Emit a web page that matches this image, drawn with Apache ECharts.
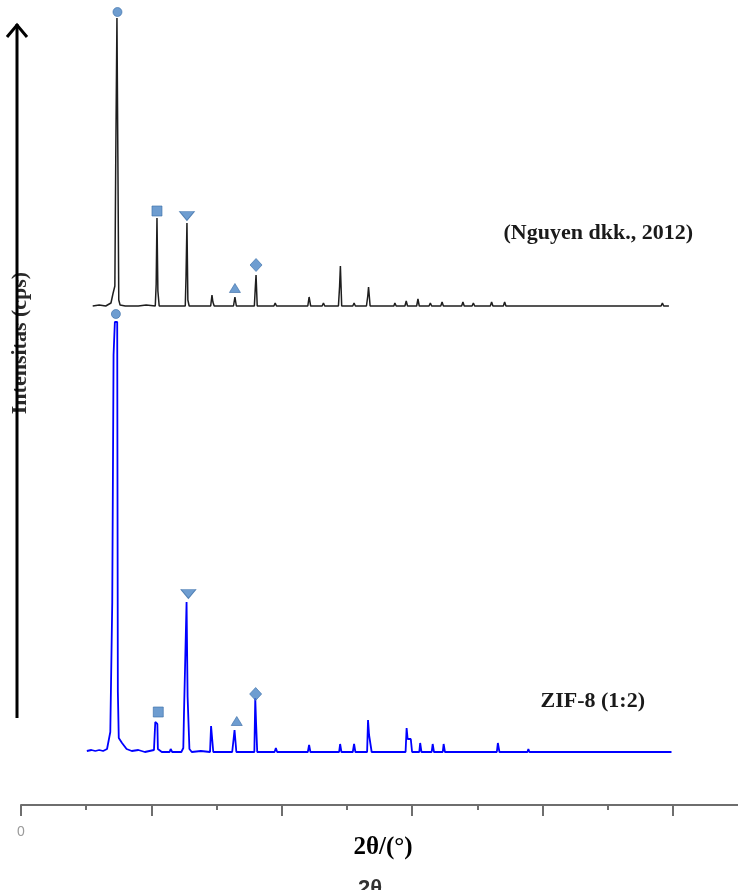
<!DOCTYPE html>
<html>
<head>
<meta charset="utf-8">
<script src="https://cdn.jsdelivr.net/npm/echarts@6/dist/echarts.min.js"></script>
<style>
html,body{margin:0;padding:0;background:#fff;overflow:hidden;}
#c{width:738px;height:890px;}
</style>
</head>
<body>
<div id="c"></div>
<script>
// ---- Reference pattern (Nguyen dkk., 2012): 2θ and relative intensity ----
const refTheta = [5.5,6.0,6.5,6.9,7.05,7.2,7.27,7.36,7.43,7.5,7.6,8.0,9.0,9.6,10.3,10.37,10.43,10.5,10.6,11.4,11.5,11.6,
  12.6,12.66,12.73,12.8,12.9,14.55,14.65,14.72,14.82,16.3,16.41,16.52,17.9,17.98,18.03,18.12,19.4,19.5,19.6,
  22.0,22.1,22.22,23.1,23.2,23.3,24.35,24.44,24.5,24.6,25.45,25.55,25.65,26.5,26.6,26.66,26.78,28.6,28.68,28.78,
  29.45,29.55,29.65,30.35,30.45,30.55,31.3,31.4,31.5,32.2,32.3,32.4,33.8,33.9,34.0,34.6,34.7,34.8,36.0,36.1,36.2,
  37.0,37.1,37.2,38.4,38.5,38.6,41.7,41.8,41.9,44.8,44.9,45.0,45.7,45.8,45.9,46.4,46.5,46.6,47.2,47.3,47.4,
  47.9,48.0,48.1,48.6,48.7,48.8,49.1,49.2,49.3,49.7];
const refIntensity = [0,1,0,3,12,20,150,288,150,6,1,0,0,1,0,22,88,15,0,0,2,0,
  0,30,83,6,0,0,11,4,0,0,9,0,0,20,31,0,0,3,0,
  0,9,0,0,3,0,0,20,40,0,0,3,0,0,10,19,0,0,3,0,
  0,5,0,0,7,0,0,3,0,0,4,0,0,4,0,0,3,0,0,4,0,
  0,4,0,0,2,0,0,2,0,0,2,0,0,2,0,0,2,0,0,2,0,
  0,2,0,0,2,0,0,3,0,0];

// ---- ZIF-8 (1:2) pattern: 2θ and relative intensity ----
const zifTheta = [5.05,5.4,5.7,6.0,6.3,6.6,6.85,6.95,7.0,7.05,7.1,7.15,7.2,7.38,7.43,7.5,7.6,7.75,7.9,8.1,8.5,9.0,9.5,
  10.2,10.3,10.38,10.46,10.5,10.8,11.4,11.48,11.6,12.3,12.45,12.5,12.62,12.7,12.78,12.85,12.92,13.1,13.8,
  14.5,14.58,14.66,14.75,15.2,15.26,15.35,16.2,16.3,16.38,16.45,16.52,16.8,17.9,17.97,18.03,18.08,18.12,
  19.45,19.55,19.65,20.0,22.0,22.1,22.2,23.1,23.2,23.3,24.4,24.48,24.58,25.45,25.55,25.65,26.55,26.62,26.7,26.82,26.9,
  29.5,29.58,29.66,29.9,30.0,30.55,30.62,30.72,31.5,31.58,31.68,32.35,32.42,32.52,34.1,34.2,34.3,34.95,35.05,35.15,
  35.6,35.7,35.8,36.5,36.58,36.7,36.9,36.97,37.05,37.7,38.85,38.92,39.0,41.8,41.9,42.0,44.85,44.9,44.95,
  46.4,46.5,46.6,49.2,49.3,49.4,49.9];
const zifIntensity = [1,2,1,2,1,3,20,22,150,150,397,397,430,430,60,14,12,9,8,3,1,2,0,
  2,30,32,28,3,0,0,3,0,0,4,37,37,150,55,55,3,0,1,
  0,26,28,0,0,2,0,0,12,22,22,0,0,0,54,30,30,0,
  0,4,0,0,0,7,0,0,1,0,0,8,0,0,8,0,0,32,17,17,0,
  0,24,13,13,0,0,9,0,0,8,0,0,8,0,0,1,0,0,2,0,
  0,2,0,0,9,0,0,2,0,0,0,3,0,0,1,0,0,-2,0,
  0,2,0,0,1.5,0,0];

// ---- Phase markers ----
const markSymbols = ['circle','rect','triangle','triangle','diamond'];
const markRotate = [0,0,180,0,0];
const refMarkX = [7.40,10.43,12.73,16.41,18.03];
const refMarkY = [294,95,90,18,41];
const zifMarkX = [7.28,10.53,12.84,16.55,18.0];
const zifMarkY = [438,40,158,31,58];

// ---- Axis ----
const xMajorTicks = [0,10,20,30,40,50];
const xMinorTicks = [5,15,25,35,45];
const xTickLabels = ['0'];

const toPairs = (xs, ys) => xs.map((x,i)=>[x, ys[i]]);
const markSizes = {circle:[9,9], rect:[10,10], triangle:[11,9], diamond:[12,13]};
const markData = (xs, ys) => xs.map((x,i)=>({
  value:[x, ys[i]],
  symbol: markSymbols[i],
  symbolRotate: markRotate[i],
  symbolSize: markRotate[i]===180 ? [15,9] : markSizes[markSymbols[i]]
}));

const chart = echarts.init(document.getElementById('c'), null, {renderer:'canvas'});
const XMAX = 55, X0 = 21, XW = 717;
const hiddenX = (gi) => ({gridIndex:gi, type:'value', min:0, max:XMAX, show:false});
const hiddenY = (gi, mx) => ({gridIndex:gi, type:'value', min:0, max:mx, show:false});
const markerStyle = {color:'#4a84c4', borderColor:'#3b6ea8', borderWidth:0.8};
const axisGray = '#6e6e6e';

chart.setOption({
  animation:false,
  backgroundColor:'#ffffff',
  grid:[
    {left:X0, width:XW, top:18, height:288},
    {left:X0, width:XW, top:322, height:430},
    {left:X0, width:XW, top:760, bottom:85}
  ],
  xAxis:[
    hiddenX(0), hiddenX(1),
    {gridIndex:2, type:'value', min:0, max:XMAX, interval:10, position:'bottom',
     axisLine:{show:true, lineStyle:{color:axisGray, width:2}},
     axisTick:{show:true, length:11, customValues:xMajorTicks, lineStyle:{color:axisGray, width:2}},
     splitLine:{show:false},
     axisLabel:{show:true, margin:20, color:'#9a9a9a', fontSize:14, fontFamily:'Liberation Sans',
       customValues:[0], formatter:(v)=> v===0 ? xTickLabels[0] : ''}
    },
    {gridIndex:2, type:'value', min:0, max:XMAX, interval:5, position:'bottom',
     axisLine:{show:false},
     axisTick:{show:true, length:5, customValues:xMinorTicks, lineStyle:{color:axisGray, width:2}},
     splitLine:{show:false},
     axisLabel:{show:false}
    }
  ],
  yAxis:[hiddenY(0,288), hiddenY(1,430), hiddenY(2,1)],
  series:[
    {type:'line', xAxisIndex:0, yAxisIndex:0, data:toPairs(refTheta, refIntensity), showSymbol:false, clip:false,
     lineStyle:{color:'#1e1e1e', width:1.5}},
    {type:'line', xAxisIndex:1, yAxisIndex:1, data:toPairs(zifTheta, zifIntensity), showSymbol:false, clip:false,
     lineStyle:{color:'#0000ff', width:1.8}},
    {type:'scatter', xAxisIndex:0, yAxisIndex:0, data:markData(refMarkX, refMarkY), clip:false, itemStyle:markerStyle, z:5},
    {type:'scatter', xAxisIndex:1, yAxisIndex:1, data:markData(zifMarkX, zifMarkY), clip:false, itemStyle:markerStyle, z:5}
  ],
  graphic:[
    {type:'text', x:20, y:343, rotation:Math.PI/2, z:1,
     style:{text:'Intensitas (cps)', font:'bold 22px "Liberation Serif"', fill:'#2a2a2a', textAlign:'center', textVerticalAlign:'middle'}},
    {type:'line', z:2, shape:{x1:17, y1:718, x2:17, y2:24}, style:{stroke:'#000', lineWidth:3}},
    {type:'polyline', z:2, shape:{points:[[7,37],[17,25],[27,37]]}, style:{stroke:'#000', lineWidth:3, fill:null}},
    {type:'text', x:693, y:233, style:{text:'(Nguyen dkk., 2012)', font:'bold 22px "Liberation Serif"', fill:'#1a1a1a', textAlign:'right', textVerticalAlign:'middle'}},
    {type:'text', x:645, y:701, style:{text:'ZIF-8 (1:2)', font:'bold 22px "Liberation Serif"', fill:'#1a1a1a', textAlign:'right', textVerticalAlign:'middle'}},
    {type:'text', x:383, y:848, style:{text:'2θ/(°)', font:'bold 25px "Liberation Serif"', fill:'#000', textAlign:'center', textVerticalAlign:'middle'}},
    {type:'text', x:370, y:889, style:{text:'2θ', font:'bold 22px "Liberation Sans"', fill:'#333', textAlign:'center', textVerticalAlign:'middle'}}
  ]
});
</script>
</body>
</html>
